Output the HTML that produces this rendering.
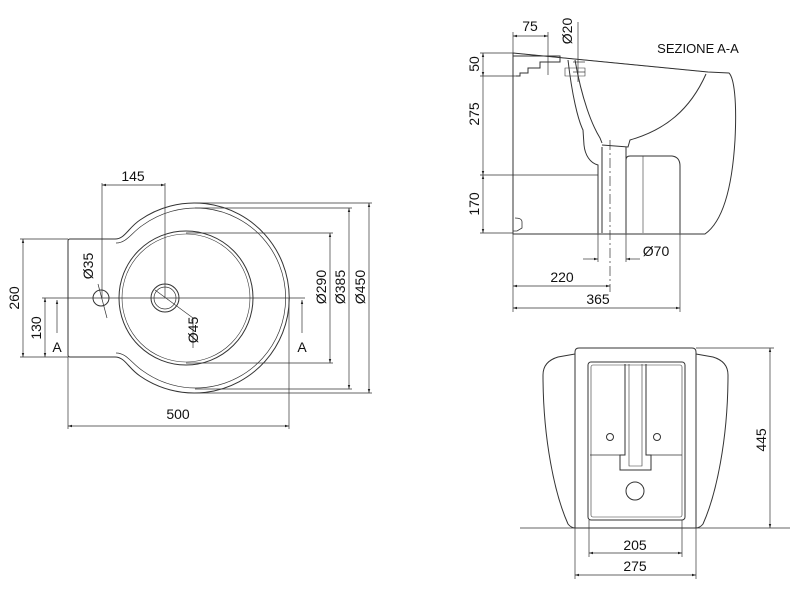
<!DOCTYPE html>
<html><head><meta charset="utf-8"><style>
html,body{margin:0;padding:0;background:#fff;}
svg{display:block;font-family:"Liberation Sans",Arial,sans-serif;}
</style></head><body>
<svg width="800" height="600" viewBox="0 0 800 600" xmlns="http://www.w3.org/2000/svg">
<defs>
<marker id="a" viewBox="0 0 10 10" refX="10" refY="5" markerWidth="6" markerHeight="6" orient="auto-start-reverse"><path d="M0,2 L10,5 L0,8 z" fill="#222"/></marker>
</defs>
<g fill="none" stroke="#333" stroke-width="1">
<!-- TOP VIEW -->
<path d="M115,239 C125,239 128,228 140,220 A95,95 0 1 1 140,376 C128,368 125,357 115,357 L70,357 Q68,357 68,355 L68,241 Q68,239 70,239 Z"/>
<path d="M116,243 C127,243 132,232 143,225 A90,90 0 1 1 143,371 C132,364 127,353 116,353" stroke-width="0.7"/>
<ellipse cx="186" cy="298" rx="67" ry="67"/>
<ellipse cx="186" cy="298" rx="64" ry="64" stroke-width="0.6"/>
<circle cx="165" cy="298" r="14"/>
<circle cx="165" cy="298" r="11" stroke-width="0.7"/>
<circle cx="101" cy="298" r="8"/>
<g stroke-width="0.7">
<line x1="42" y1="298" x2="305" y2="298"/>
<line x1="20" y1="239" x2="68" y2="239"/><line x1="20" y1="357" x2="68" y2="357"/>
<line x1="23" y1="239" x2="23" y2="357" marker-start="url(#a)" marker-end="url(#a)"/>
<line x1="45" y1="298" x2="45" y2="357" marker-start="url(#a)" marker-end="url(#a)"/>
<line x1="57" y1="333" x2="57" y2="300" marker-end="url(#a)"/>
<line x1="302" y1="333" x2="302" y2="300" marker-end="url(#a)"/>
<line x1="102" y1="183" x2="102" y2="298"/><line x1="165" y1="183" x2="165" y2="298"/>
<line x1="102" y1="185" x2="165" y2="185" marker-start="url(#a)" marker-end="url(#a)"/>
<line x1="68" y1="357" x2="68" y2="429"/><line x1="289" y1="298" x2="289" y2="429"/>
<line x1="68" y1="426" x2="289" y2="426" marker-start="url(#a)" marker-end="url(#a)"/>
<line x1="186" y1="233" x2="333" y2="233"/><line x1="186" y1="363" x2="333" y2="363"/>
<line x1="330" y1="233" x2="330" y2="363" marker-start="url(#a)" marker-end="url(#a)"/>
<line x1="195" y1="208" x2="352" y2="208"/><line x1="195" y1="389" x2="352" y2="389"/>
<line x1="349" y1="208" x2="349" y2="389" marker-start="url(#a)" marker-end="url(#a)"/>
<line x1="195" y1="203" x2="372" y2="203"/><line x1="195" y1="393" x2="372" y2="393"/>
<line x1="369" y1="203" x2="369" y2="393" marker-start="url(#a)" marker-end="url(#a)"/>
<line x1="98" y1="284" x2="107" y2="318"/>
<polyline points="155,290 193,318 193,348"/>
</g>
<!-- SECTION -->
<path d="M513,53 L513,234 L705,234 C722,222 732,190 735,140 C737,100 734,78 729,73 L708,72 L513,53"/>
<path d="M513,53 L708,72" stroke-width="0.6"/>
<path d="M513,56 L560,56 L560,62 L540,62 L540,68 L528,68 L528,73 L520,73 L520,76 L516,76"/>
<path d="M568,60 C572,95 578,120 583,130 L584,145 C585,155 590,163 598,165 L598,175"/>
<path d="M575,60 C582,100 592,125 600,138 L602,143"/>
<path d="M706,74 C690,110 665,130 630,140 L628,147 L602,145"/>
<path d="M598,175 L598,233 M626,147 L626,233 M602,147 L602,233"/>
<path d="M626,160 Q626,156 630,156 L672,156 Q680,157 680,166 L680,233"/>
<path d="M643,156 L643,233" stroke-width="0.6"/>
<path d="M515,218 Q522,218 522,222 L522,228 L517,231 L513,231" stroke-width="0.8"/>
<path d="M565,68 L585,68 L585,76 L565,76 Z" stroke-width="0.6"/>
<g stroke-width="0.7">
<line x1="610" y1="140" x2="610" y2="292" stroke-dasharray="10,3,2,3"/>
<line x1="480" y1="53" x2="513" y2="53"/><line x1="480" y1="76" x2="516" y2="76"/>
<line x1="480" y1="175" x2="598" y2="175"/><line x1="480" y1="233" x2="513" y2="233"/>
<line x1="483" y1="53" x2="483" y2="76" marker-start="url(#a)" marker-end="url(#a)"/>
<line x1="483" y1="76" x2="483" y2="175" marker-end="url(#a)"/>
<line x1="483" y1="175" x2="483" y2="233" marker-start="url(#a)" marker-end="url(#a)"/>
<line x1="513" y1="32" x2="513" y2="53"/><line x1="548" y1="32" x2="548" y2="75"/>
<line x1="513" y1="36" x2="548" y2="36" marker-start="url(#a)" marker-end="url(#a)"/>
<line x1="578" y1="22" x2="578" y2="82"/><line x1="573" y1="62" x2="585" y2="62"/><line x1="573" y1="72" x2="585" y2="72"/>
<line x1="513" y1="234" x2="513" y2="312"/><line x1="598" y1="233" x2="598" y2="262"/><line x1="626" y1="233" x2="626" y2="262"/>
<line x1="680" y1="233" x2="680" y2="312"/>
<line x1="583" y1="259" x2="598" y2="259" marker-end="url(#a)"/>
<line x1="640" y1="259" x2="626" y2="259" marker-end="url(#a)"/>
<line x1="513" y1="286" x2="610" y2="286" marker-start="url(#a)" marker-end="url(#a)"/>
<line x1="513" y1="308" x2="680" y2="308" marker-start="url(#a)" marker-end="url(#a)"/>
</g>
<!-- FRONT VIEW -->
<path d="M575,354 L558,357 C548,360 543,366 543,375 C543,440 555,495 568,524 Q571,528 576,528"/>
<path d="M696,354 L713,357 C723,360 728,366 728,375 C728,440 716,495 703,524 Q700,528 695,528"/>
<path d="M579,348 L692,348 Q696,348 696,352 L696,528 L575,528 L575,352 Q575,348 579,348 Z"/>
<rect x="588" y="362" width="97" height="158" rx="3"/>
<rect x="591" y="365" width="91" height="152" rx="2" stroke-width="0.6"/>
<path d="M625,364 L625,455 L620,455 L620,470 L651,470 L651,455 L646,455 L646,364"/>
<path d="M629,364 L629,466 L642,466 L642,364" stroke-width="0.6"/>
<path d="M590,455 L620,455 M651,455 L682,455" stroke-width="0.7"/>
<circle cx="635" cy="491" r="9"/>
<circle cx="610" cy="437" r="3.5"/><circle cx="657" cy="437" r="3.5"/>
<g stroke-width="0.7">
<line x1="520" y1="528" x2="790" y2="528"/>
<line x1="696" y1="348" x2="774" y2="348"/>
<line x1="770" y1="348" x2="770" y2="528" marker-start="url(#a)" marker-end="url(#a)"/>
<line x1="589" y1="520" x2="589" y2="557"/><line x1="682" y1="520" x2="682" y2="557"/>
<line x1="589" y1="553" x2="682" y2="553" marker-start="url(#a)" marker-end="url(#a)"/>
<line x1="575" y1="528" x2="575" y2="579"/><line x1="696" y1="528" x2="696" y2="579"/>
<line x1="575" y1="575" x2="696" y2="575" marker-start="url(#a)" marker-end="url(#a)"/>
</g>
</g>
<g font-size="14" fill="#111" text-anchor="middle">
<text x="133" y="181">145</text>
<text x="178" y="419">500</text>
<text x="57" y="352">A</text>
<text x="302" y="352">A</text>
<text transform="translate(19,298) rotate(-90)">260</text>
<text transform="translate(41,328) rotate(-90)">130</text>
<text transform="translate(93,266) rotate(-90)">Ø35</text>
<text transform="translate(198,330) rotate(-90)">Ø45</text>
<text transform="translate(326,287) rotate(-90)">Ø290</text>
<text transform="translate(345,287) rotate(-90)">Ø385</text>
<text transform="translate(365,287) rotate(-90)">Ø450</text>
<text x="530" y="31">75</text>
<text transform="translate(572,31) rotate(-90)">Ø20</text>
<text transform="translate(479,64) rotate(-90)">50</text>
<text transform="translate(479,114) rotate(-90)">275</text>
<text transform="translate(479,204) rotate(-90)">170</text>
<text x="656" y="256">Ø70</text>
<text x="562" y="282">220</text>
<text x="598" y="304">365</text>
<text x="698" y="53" font-size="13">SEZIONE A-A</text>
<text transform="translate(766,440) rotate(-90)">445</text>
<text x="635" y="550">205</text>
<text x="635" y="571">275</text>
</g>
</svg>
</body></html>
